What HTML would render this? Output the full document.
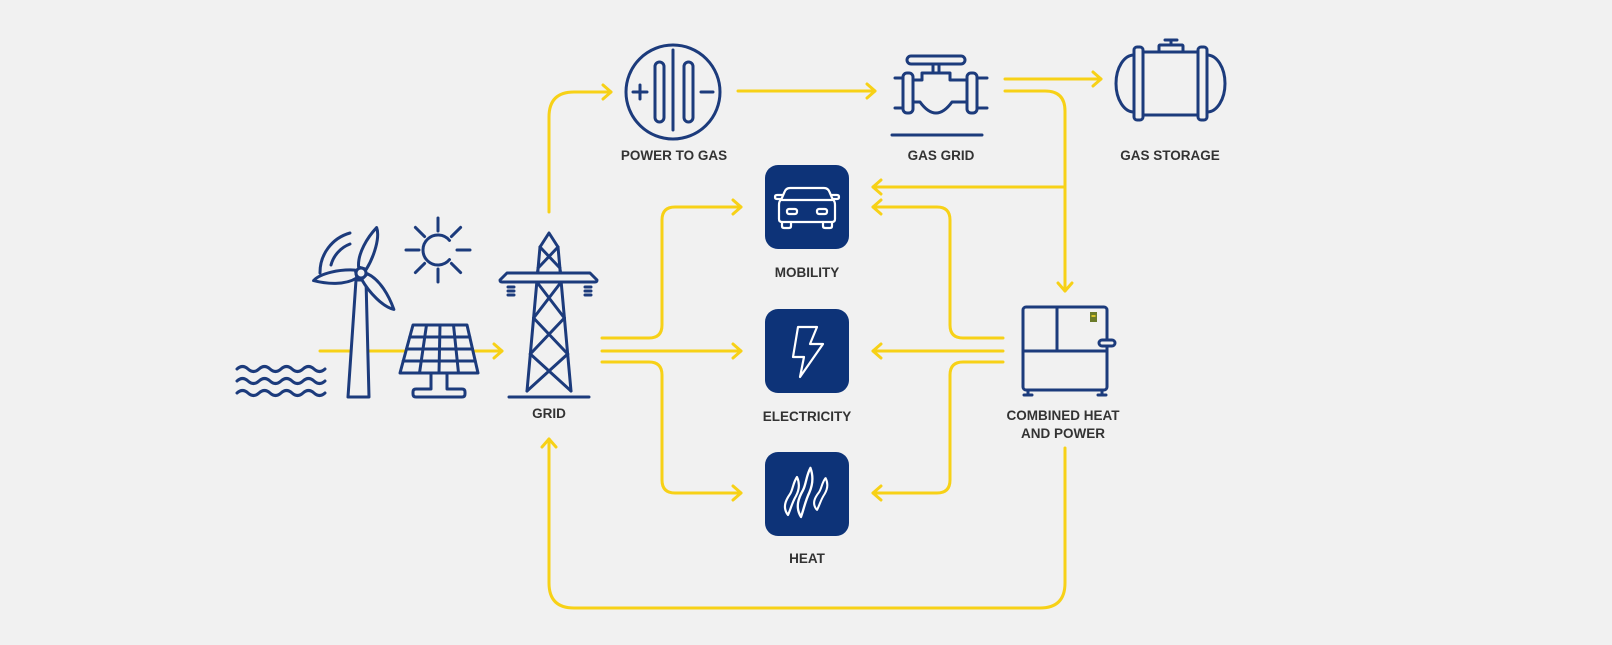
<!DOCTYPE html>
<html>
<head>
<meta charset="utf-8">
<style>
  html,body{margin:0;padding:0;background:#f1f1f1;}
  body{width:1612px;height:645px;overflow:hidden;}
  svg{display:block;}
  .y{fill:none;stroke:#f7d117;stroke-width:3;stroke-linecap:round;stroke-linejoin:round;}
  .n{fill:#f1f1f1;stroke:#1c3b7c;stroke-width:3;stroke-linecap:round;stroke-linejoin:round;}
  .nn{fill:none;stroke:#1c3b7c;stroke-width:3;stroke-linecap:round;stroke-linejoin:round;}
  .w{fill:none;stroke:#ffffff;stroke-width:2.2;stroke-linecap:round;stroke-linejoin:round;}
  .box{fill:#0d3378;}
  text{font-family:"Liberation Sans",Arial,sans-serif;font-weight:bold;font-size:13.5px;fill:#333333;text-anchor:middle;}
</style>
</head>
<body>
<svg width="1612" height="645" viewBox="0 0 1612 645" xmlns="http://www.w3.org/2000/svg">
  <rect x="0" y="0" width="1612" height="645" fill="#f1f1f1"/>

  <!-- ===== Yellow connectors ===== -->
  <g class="y">
    <path d="M320,351 H502"/><path d="M494,344 L502,351 L494,358"/>
    <path d="M549,212 V117 Q549,92 574,92 H611"/><path d="M603,85 L611,92 L603,99"/>
    <path d="M738,91 H875"/><path d="M867,84 L875,91 L867,98"/>
    <path d="M1005,79 H1101"/><path d="M1093,72 L1101,79 L1093,86"/>
    <path d="M1005,91 H1045 Q1065,91 1065,111 V291"/><path d="M1058,283 L1065,291 L1072,283"/>
    <path d="M1065,187 H873"/><path d="M881,180 L873,187 L881,194"/>
    <path d="M602,338 H649 Q662,338 662,325 V220 Q662,207 675,207 H741"/><path d="M733,200 L741,207 L733,214"/>
    <path d="M602,351 H741"/><path d="M733,344 L741,351 L733,358"/>
    <path d="M602,362 H649 Q662,362 662,375 V480 Q662,493 675,493 H741"/><path d="M733,486 L741,493 L733,500"/>
    <path d="M1003,338 H963 Q950,338 950,325 V220 Q950,207 937,207 H873"/><path d="M881,200 L873,207 L881,214"/>
    <path d="M1003,351 H873"/><path d="M881,344 L873,351 L881,358"/>
    <path d="M1003,362 H963 Q950,362 950,375 V480 Q950,493 937,493 H873"/><path d="M881,486 L873,493 L881,500"/>
    <path d="M1065,448 V583 Q1065,608 1040,608 H574 Q549,608 549,583 V439"/><path d="M542,447 L549,439 L556,447"/>
  </g>

  <!-- ===== Waves ===== -->
  <g class="nn" stroke-width="2.6">
    <path d="M237,369 q5.5,-5 11,0 t11,0 t11,0 t11,0 t11,0 t11,0 t11,0 t11,0"/>
    <path d="M237,381 q5.5,-5 11,0 t11,0 t11,0 t11,0 t11,0 t11,0 t11,0 t11,0"/>
    <path d="M237,393 q5.5,-5 11,0 t11,0 t11,0 t11,0 t11,0 t11,0 t11,0 t11,0"/>
  </g>

  <!-- ===== Wind turbine ===== -->
  <path class="n" d="M356,280 L348,397 H369 L366,280 Z"/>
  <path class="nn" d="M320,273 A41,41 0 0 1 350,233"/>
  <path class="nn" d="M331,265 A31,31 0 0 1 350,244"/>
  <g transform="translate(361,273)">
    <g transform="rotate(16.6)"><path class="n" d="M-4,-5 C-9,-18 -4,-36 2,-48 C8,-40 8,-20 4,-5 Z"/></g>
    <g transform="rotate(-101.5)"><path class="n" d="M-4,-5 C-9,-18 -4,-36 2,-48 C8,-40 8,-20 4,-5 Z"/></g>
    <g transform="rotate(135.6)"><path class="n" d="M-4,-5 C-9,-18 -4,-36 2,-49 C8,-40 8,-20 4,-5 Z"/></g>
    <circle class="n" cx="0" cy="0" r="5"/>
  </g>

  <!-- ===== Sun ===== -->
  <path class="nn" d="M449.5,240.4 A15,15 0 1 0 449.5,259.6"/>
  <g class="nn">
    <path d="M438,231 V218"/><path d="M438,269 V282"/>
    <path d="M419,250 H406"/><path d="M457,250 H470"/>
    <path d="M424.6,236.6 L415.4,227.4"/><path d="M451.4,236.6 L460.6,227.4"/>
    <path d="M424.6,263.4 L415.4,272.6"/><path d="M451.4,263.4 L460.6,272.6"/>
  </g>

  <!-- ===== Solar panel ===== -->
  <path class="n" d="M413,325 H467 L478,373 H400 Z"/>
  <g class="nn" stroke-width="2.6">
    <path d="M426.5,325 L419.5,373"/><path d="M440,325 L439,373"/><path d="M453.5,325 L458.5,373"/>
    <path d="M409.8,337 H469.7"/><path d="M406.5,349 H472.5"/><path d="M403.2,361 H475.2"/>
  </g>
  <path class="nn" d="M431,374 V389 H416 Q413,389 413,392 V394 Q413,397 416,397 H462 Q465,397 465,394 V392 Q465,389 462,389 H447 V374"/>

  <!-- ===== Grid tower ===== -->
  <g class="nn">
    <path d="M540,247 L549,233 L558,247"/>
    <path d="M540,247 L527,391"/><path d="M558,247 L571,391"/>
    <path d="M540,247 L559.9,268 M558,247 L538.1,268"/>
    <path d="M538.1,268 L537.5,273 M559.9,268 L560.5,273"/>
    <path d="M536.8,282 L564.4,318 M561.2,282 L533.6,318"/>
    <path d="M533.6,318 L567.7,354 M564.4,318 L530.3,354"/>
    <path d="M530.3,354 L571,391 M567.7,354 L527,391"/>
    <path d="M509,397 H589"/>
  </g>
  <path class="n" d="M507,273 H590 L597,280 Q597,282 595,282 H502 Q500,282 500,280 Z"/>
  <g class="nn" stroke-width="2">
    <path d="M508,287 H514 M508,291 H514 M508,295 H514"/>
    <path d="M585,287 H591 M585,291 H591 M585,295 H591"/>
  </g>

  <!-- ===== Power to gas ===== -->
  <circle class="nn" cx="673" cy="92" r="47"/>
  <rect class="nn" x="655" y="62" width="9" height="60" rx="4.5"/>
  <rect class="nn" x="684" y="62" width="9" height="60" rx="4.5"/>
  <path class="nn" d="M673,50 V130"/>
  <path class="nn" d="M633,92 H647 M640,85 V99"/>
  <path class="nn" d="M701,92 H713"/>

  <!-- ===== Gas grid valve ===== -->
  <rect class="nn" x="907" y="56" width="58" height="8" rx="4"/>
  <path class="nn" d="M933,64 V73 M939,64 V73"/>
  <rect class="nn" x="903" y="73" width="10" height="40" rx="4"/>
  <rect class="nn" x="967" y="73" width="10" height="40" rx="4"/>
  <path class="nn" d="M895,78 H903 M895,108 H903 M977,78 H987 M977,108 H987"/>
  <path class="nn" d="M913,80 H922 V73 H950 V80 H967 M913,102 H920 Q936,124 952,102 H967"/>
  <path class="nn" d="M892,135 H982"/>

  <!-- ===== Gas storage ===== -->
  <path class="nn" d="M1143,52 H1198 M1143,115 H1198"/>
  <path class="nn" d="M1134,55 A18,28.5 0 0 0 1134,112"/>
  <path class="nn" d="M1207,55 A18,28.5 0 0 1 1207,112"/>
  <rect class="nn" x="1134" y="47" width="9" height="73" rx="3"/>
  <rect class="nn" x="1198" y="47" width="9" height="73" rx="3"/>
  <rect class="nn" x="1159" y="45" width="24" height="7" rx="1"/>
  <path class="nn" d="M1165,40 H1177 M1171,40 V45"/>

  <!-- ===== Mobility ===== -->
  <rect class="box" x="765" y="165" width="84" height="84" rx="13"/>
  <g class="w">
    <path d="M790,188 H824 Q828,188 829.5,192 L833,200 Q835,201 835,205 V219 Q835,222 832,222 H782 Q779,222 779,219 V205 Q779,201 781,200 L784.5,192 Q786,188 790,188 Z"/>
    <path d="M782,200 H832"/>
    <path d="M782,222 V226 Q782,228 784,228 H789 Q791,228 791,226 V222"/>
    <path d="M823,222 V226 Q823,228 825,228 H830 Q832,228 832,226 V222"/>
    <path d="M781,199 H777 Q775,199 775,197 Q775,195 777,195 H782"/>
    <path d="M833,199 H837 Q839,199 839,197 Q839,195 837,195 H832"/>
    <rect x="787" y="209" width="10" height="5" rx="2"/>
    <rect x="817" y="209" width="10" height="5" rx="2"/>
  </g>

  <!-- ===== Electricity ===== -->
  <rect class="box" x="765" y="309" width="84" height="84" rx="13"/>
  <path class="w" d="M798,327 L817,327 L810,344 L823,344 L800,377 L804,357 L793,357 Z"/>

  <!-- ===== Heat ===== -->
  <rect class="box" x="765" y="452" width="84" height="84" rx="13"/>
  <g class="w">
    <g transform="translate(788,477) scale(1,0.95)"><path d="M0,40 C-6,32 -2,24 2,18 C5,13 5,6 9,0 C12,7 11,14 8,20 C4,27 3,33 0,40 Z"/></g>
    <g transform="translate(801,468) scale(1.05,1.22)"><path d="M0,40 C-6,32 -2,24 2,18 C5,13 5,6 9,0 C12,7 11,14 8,20 C4,27 3,33 0,40 Z"/></g>
    <g transform="translate(817,478) scale(0.95,0.8)"><path d="M0,40 C-6,32 -2,24 2,18 C5,13 5,6 9,0 C12,7 11,14 8,20 C4,27 3,33 0,40 Z"/></g>
  </g>

  <!-- ===== CHP ===== -->
  <rect class="n" x="1023" y="307" width="84" height="83" rx="3"/>
  <path class="nn" d="M1057,307 V351 M1023,351 H1107"/>
  <path class="nn" d="M1028,390 V395 M1024,395 H1032 M1102,390 V395 M1098,395 H1106"/>
  <rect class="n" x="1099" y="340" width="16" height="6" rx="3" stroke-width="2"/>
  <rect x="1090" y="312" width="7" height="10" fill="#6b7b2a"/>
  <rect x="1091.5" y="315" width="4" height="2" fill="#d9c32a"/>

  <!-- ===== Labels ===== -->
  <text x="674" y="160">POWER TO GAS</text>
  <text x="941" y="160">GAS GRID</text>
  <text x="1170" y="160">GAS STORAGE</text>
  <text x="807" y="277">MOBILITY</text>
  <text x="807" y="421">ELECTRICITY</text>
  <text x="807" y="563">HEAT</text>
  <text x="549" y="418">GRID</text>
  <text x="1063" y="420">COMBINED HEAT</text>
  <text x="1063" y="438">AND POWER</text>
</svg>
</body>
</html>
